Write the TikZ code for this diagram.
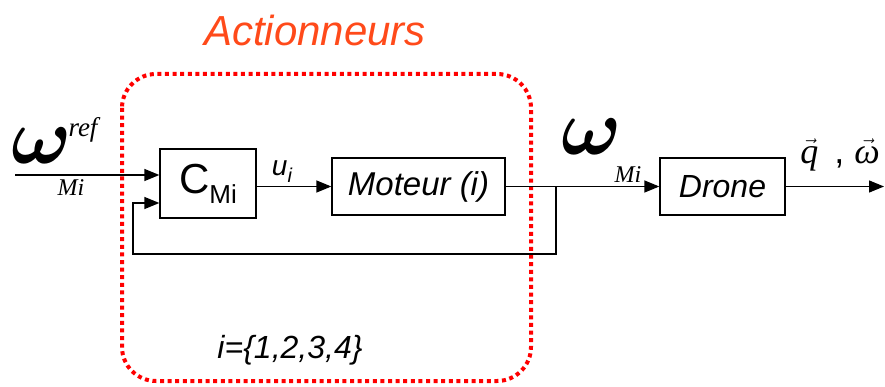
\documentclass[tikz,border=0pt]{standalone}
\usepackage{fontspec}
\setmainfont{Liberation Sans}
\newfontfamily\tnr{Liberation Serif}
\usepackage{xcolor}
\usepackage{tikz}
\usetikzlibrary{arrows.meta,positioning,calc}
\definecolor{acred}{HTML}{FF0000}
\definecolor{acorange}{HTML}{FF4A1A}
\definecolor{acink}{HTML}{000000}
\newcommand{\tvec}[1]{$\vec{\hbox{\tnr\itshape #1}}$}
\newcommand{\bigomega}{\scalebox{8}{\mathversion{bold}$\omega$}}
\tikzset{
  blockbox/.style={rectangle,draw=acink,line width=1.3pt,fill=white,
                   inner sep=0pt,align=center,text=acink},
  flow/.style={-{Triangle[length=15pt,width=12pt]},line width=1.3pt,draw=acink},
  zone/.style={draw=acred,line width=4pt,rounded corners=34pt,
               dash pattern=on 4pt off 3.6pt},
  lbl/.style={inner sep=0pt,text=acink},
}
\begin{document}
\begin{tikzpicture}[x=1pt,y=-1pt]
  \useasboundingbox (0,0) rectangle (885,387);
  % actuator zone
  \draw[zone] (122,74) rectangle (531,381);
  \node[lbl,text=acorange,font=\fontsize{42}{42}\selectfont\itshape] (act) at (315,30) {Actionneurs};
  \node[lbl,font=\fontsize{32}{32}\selectfont\itshape] (iset) at (290,350) {i=\{1,2,3,4\}};
  % blocks
  \node[blockbox,minimum width=96pt,minimum height=69pt] (cmi) at (208,183.5)
    {\fontsize{42}{42}\selectfont C\raisebox{-10pt}{\fontsize{26}{26}\selectfont Mi}};
  \node[blockbox,minimum width=173pt,minimum height=57pt,font=\fontsize{33}{33}\selectfont\itshape] (mot) at (418.5,186.5) {Moteur (i)};
  \node[blockbox,minimum width=125pt,minimum height=57pt,font=\fontsize{32}{32}\selectfont\itshape] (drone) at (722.5,186.5) {Drone};
  % labels
  \node[lbl] (wref) at (42,146) {\bigomega};
  \node[lbl,font=\fontsize{27}{27}\selectfont\tnr\itshape] (wrefsup) at (83,130) {ref};
  \node[lbl,font=\fontsize{24}{24}\selectfont\tnr\itshape] (wrefsub) at (71,188) {Mi};
  \node[lbl] (wm) at (592,137) {\bigomega};
  \node[lbl,font=\fontsize{24}{24}\selectfont\tnr\itshape] (wmsub) at (628,175) {Mi};
  \node[lbl,font=\fontsize{28}{28}\selectfont\itshape] (ui) at (282,172)
    {u\raisebox{-7pt}{\fontsize{20}{20}\selectfont i}};
  \node[lbl,font=\fontsize{36}{36}\selectfont] (qw) at (840,155) {\tvec{q}\;\,,\;\tvec{ω}};
  % connectors
  \coordinate (in) at (15,175);
  \coordinate (br) at (556,186.5);
  \coordinate (fb) at (133,254);
  \coordinate (out) at (884,186.5);
  \coordinate (cin1) at ([yshift=8.5pt]cmi.west);
  \coordinate (cin2) at ([yshift=-19.5pt]cmi.west);
  \draw[flow] (in) -- (cin1);
  \draw[flow] (cmi.east |- mot.west) -- (mot.west);
  \draw[flow] (mot.east) -- (drone.west);
  \draw[flow] (br) |- (fb) |- (cin2);
  \draw[flow] (drone.east) -- (out);
\end{tikzpicture}
\end{document}
